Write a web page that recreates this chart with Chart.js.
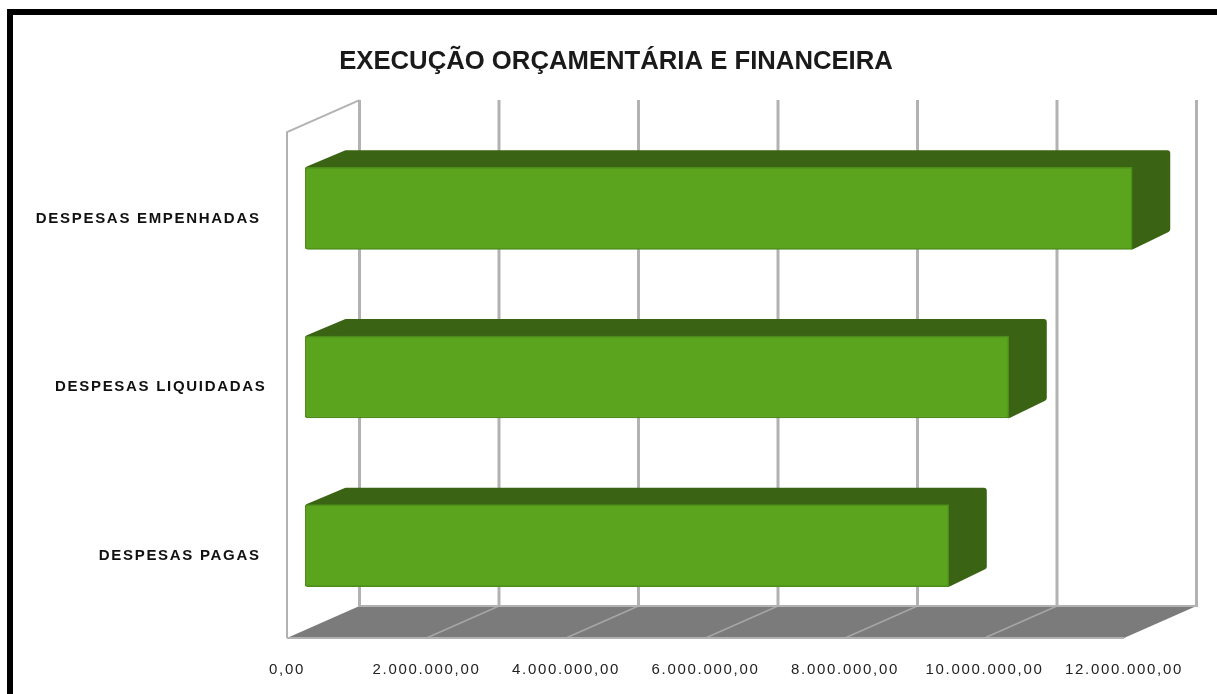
<!DOCTYPE html>
<html lang="pt">
<head>
<meta charset="utf-8">
<title>Execução Orçamentária e Financeira</title>
<script src="https://cdn.jsdelivr.net/npm/chart.js@4"></script>
<style>
html,body{margin:0;padding:0;background:#fff;overflow:hidden;width:1217px;height:694px}
#frame{position:absolute;left:7px;top:9px;right:0;bottom:0;border-left:6px solid #000;border-top:6px solid #000}
#wrap{position:absolute;left:15px;top:15px;width:1202px;height:679px}
</style>
</head>
<body>
<div id="frame"></div>
<div id="wrap"><canvas id="c"></canvas></div>
<script>
const chartTitle = 'EXECUÇÃO ORÇAMENTÁRIA E FINANCEIRA';
const categories = ['DESPESAS EMPENHADAS', 'DESPESAS LIQUIDADAS', 'DESPESAS PAGAS'];
const seriesName = 'Execução';
const values = [11860000, 10090000, 9230000];
const axisMax = 12000000;
const axisStep = 2000000;

const WALL_DX = 72.5, WALL_DY = 32;
const BAR_OFF_X = 18, BAR_OFF_Y = 8;
const BAR_DX = 38, BAR_DY = 17;
const GRID = '#b2b2b2', FLOOR = '#7b7b7b', FLOOR_LINE = '#a6a6a6';
const FACE = '#5ba41e', FACE_EDGE = '#4d8c1a', DEPTH = '#3a6413';

const threeD = {
  id: 'threeD',
  beforeDraw(chart) {
    chart.titleBlock.left = 0;
    chart.titleBlock.right = chart.width;
  },
  beforeDatasetsDraw(chart) {
    const {ctx, chartArea: a, scales: {x}} = chart;
    ctx.save();
    // floor
    ctx.fillStyle = FLOOR;
    ctx.beginPath();
    ctx.moveTo(a.left, a.bottom);
    ctx.lineTo(a.left + WALL_DX, a.bottom - WALL_DY);
    ctx.lineTo(a.right + WALL_DX, a.bottom - WALL_DY);
    ctx.lineTo(a.right, a.bottom);
    ctx.closePath();
    ctx.fill();
    // diagonal floor lines and back wall grid
    x.ticks.forEach((t, i) => {
      const px = x.getPixelForValue(t.value);
      if (i > 0 && i < x.ticks.length - 1) {
        ctx.strokeStyle = FLOOR_LINE; ctx.lineWidth = 1.5;
        ctx.beginPath();
        ctx.moveTo(px, a.bottom);
        ctx.lineTo(px + WALL_DX, a.bottom - WALL_DY);
        ctx.stroke();
      }
      ctx.strokeStyle = GRID; ctx.lineWidth = 3;
      ctx.beginPath();
      ctx.moveTo(px + WALL_DX, a.top - WALL_DY);
      ctx.lineTo(px + WALL_DX, a.bottom - WALL_DY + 1);
      ctx.stroke();
    });
    // frame lines
    ctx.strokeStyle = GRID; ctx.lineWidth = 2;
    ctx.beginPath();
    ctx.moveTo(a.left + WALL_DX, a.bottom - WALL_DY);
    ctx.lineTo(a.right + WALL_DX, a.bottom - WALL_DY);
    ctx.moveTo(a.left, a.bottom);
    ctx.lineTo(a.right, a.bottom);
    ctx.stroke();
    ctx.beginPath();
    ctx.moveTo(a.left, a.bottom);
    ctx.lineTo(a.left, a.top);
    ctx.lineTo(a.left + WALL_DX, a.top - WALL_DY);
    ctx.stroke();
    // bar depth faces
    chart.getDatasetMeta(0).data.forEach(el => {
      const p = el.getProps(['x', 'y', 'base', 'height'], true);
      const l = p.base + BAR_OFF_X, r = p.x + BAR_OFF_X;
      const t = p.y - p.height / 2 - BAR_OFF_Y, b = p.y + p.height / 2 - BAR_OFF_Y;
      ctx.fillStyle = DEPTH; ctx.strokeStyle = DEPTH;
      ctx.lineWidth = 6; ctx.lineJoin = 'round';
      ctx.beginPath();
      ctx.moveTo(l + 3, t + 2);
      ctx.lineTo(l + BAR_DX + 3, t - BAR_DY + 3);
      ctx.lineTo(r + BAR_DX - 3, t - BAR_DY + 3);
      ctx.lineTo(r + BAR_DX - 3, b - BAR_DY - 3);
      ctx.lineTo(r, b - 3);
      ctx.lineTo(r, t + 2);
      ctx.closePath();
      ctx.fill();
      ctx.stroke();
    });
    ctx.restore();
    ctx.save();
    ctx.translate(BAR_OFF_X, -BAR_OFF_Y);
  },
  afterDatasetsDraw(chart) {
    chart.ctx.restore();
    chart.ctx.letterSpacing = '1.7px';
  },
  afterDraw(chart) {
    chart.ctx.letterSpacing = '0px';
  }
};

new Chart(document.getElementById('c'), {
  type: 'bar',
  data: {
    labels: categories,
    datasets: [{
      label: seriesName,
      data: values,
      backgroundColor: FACE,
      borderColor: FACE_EDGE,
      borderWidth: 1.5,
      borderRadius: {topLeft: 3, bottomLeft: 3, topRight: 0, bottomRight: 0},
      borderSkipped: false,
      barThickness: 82
    }]
  },
  plugins: [threeD],
  options: {
    indexAxis: 'y',
    responsive: true,
    maintainAspectRatio: false,
    animation: false,
    layout: {padding: {right: 93, bottom: 0, left: 0, top: 0}},
    plugins: {
      legend: {display: false},
      tooltip: {enabled: false},
      title: {
        display: true,
        text: chartTitle,
        color: '#1a1a1a',
        font: {family: '"Liberation Sans"', size: 25.7, weight: 'bold', lineHeight: 1.2},
        padding: {top: 31.5, bottom: 54.7}
      }
    },
    scales: {
      x: {
        type: 'linear',
        min: 0,
        max: axisMax,
        afterFit(s) { s.height = 56; },
        grid: {display: false},
        border: {display: false},
        ticks: {
          stepSize: axisStep,
          autoSkip: false,
          maxRotation: 0,
          padding: 15,
          z: 1,
          color: '#222',
          font: {family: '"Liberation Sans"', size: 15},
          callback: v => v.toLocaleString('pt-BR', {minimumFractionDigits: 2, maximumFractionDigits: 2})
        }
      },
      y: {
        afterFit(s) { s.width = 272; },
        grid: {display: false},
        border: {display: false},
        ticks: {
          autoSkip: false,
          padding: 12.5,
          labelOffset: 2,
          z: 1,
          color: '#111',
          font: {family: '"Liberation Sans"', size: 15, weight: 'bold'},
          callback: (v, i) => categories[i] + (i === 1 ? '' : ' ')
        }
      }
    }
  }
});
</script>
</body>
</html>
